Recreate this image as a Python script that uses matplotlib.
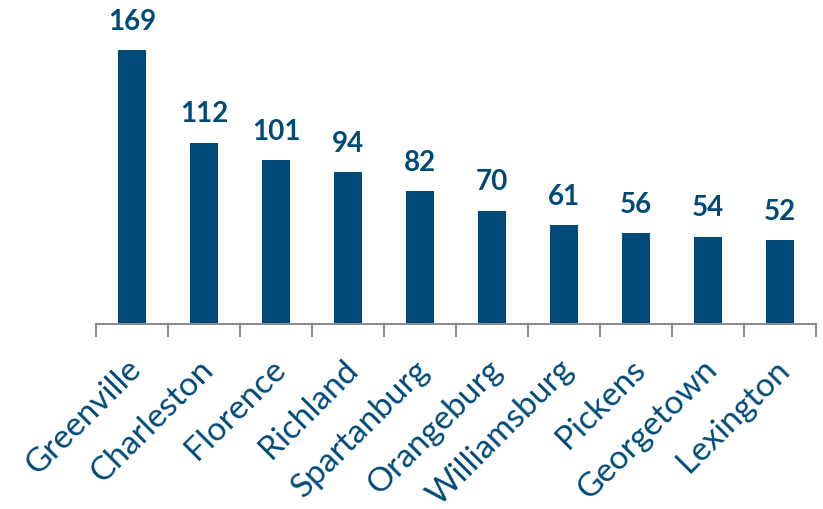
import matplotlib.pyplot as plt
import numpy as np

counties = ['Greenville', 'Charleston', 'Florence', 'Richland', 'Spartanburg',
            'Orangeburg', 'Williamsburg', 'Pickens', 'Georgetown', 'Lexington']
counts = [169, 112, 101, 94, 82, 70, 61, 56, 54, 52]

bar_color = '#004a78'
plt.rcParams['font.family'] = ['Lato', 'DejaVu Sans']

fig = plt.figure(figsize=(8.23, 5.10), dpi=100)
ax = fig.add_axes([96 / 823, 185 / 510, 720 / 823, 324 / 510])

x = np.arange(len(counties))
ax.bar(x, counts, width=0.39, color=bar_color)
for xi, v in zip(x, counts):
    ax.text(xi, v + 10, str(v), ha='center', va='bottom', fontsize=20,
            fontweight='bold', color=bar_color)

ax.set_xlim(-0.5, len(counties) - 0.5)
ax.set_ylim(0, 200)
for side in ['top', 'right', 'left']:
    ax.spines[side].set_visible(False)
ax.spines['bottom'].set_color('#8c8c8c')
ax.spines['bottom'].set_linewidth(1.5)
ax.set_yticks([])

# ticks at category boundaries
ax.set_xticks(np.arange(len(counties) + 1) - 0.5, minor=False)
ax.set_xticklabels([])
ax.tick_params(axis='x', length=9, width=1.5, color='#8c8c8c', direction='out')
for xi, name in zip(x, counties):
    ax.text(xi - 0.08, -18, name, rotation=45, ha='right', va='top',
            rotation_mode='anchor', fontsize=24, color=bar_color)

fig.savefig('out.png', dpi=100)
